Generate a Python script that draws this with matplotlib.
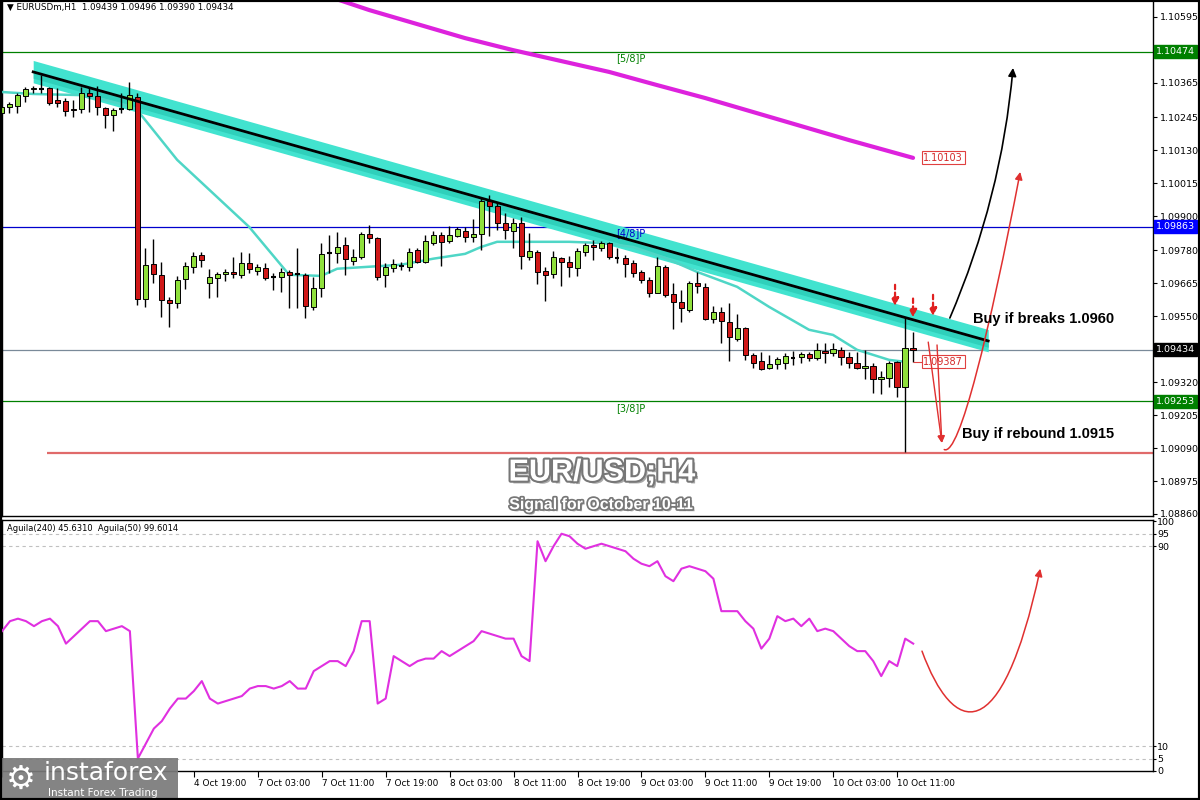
import matplotlib
matplotlib.use("Agg")
import matplotlib.pyplot as plt
import matplotlib.patheffects as pe
import matplotlib.transforms as mtransforms
from matplotlib.path import Path
from matplotlib.patches import FancyArrowPatch, Rectangle

# EURUSD H1 candles
opens = [1.10260, 1.10282, 1.10285, 1.10319, 1.10343, 1.10347, 1.10347, 1.10305, 1.10302, 1.10274,
         1.10274, 1.10329, 1.10319, 1.10277, 1.10253, 1.10270, 1.10274, 1.10315, 1.09611, 1.09733,
         1.09695, 1.09607, 1.09597, 1.09681, 1.09723, 1.09765, 1.09667, 1.09684, 1.09698, 1.09705,
         1.09695, 1.09737, 1.09709, 1.09719, 1.09688, 1.09688, 1.09705, 1.09698, 1.09695, 1.09583,
         1.09649, 1.09772, 1.09772, 1.09799, 1.09744, 1.09758, 1.09838, 1.09824, 1.09695, 1.09719,
         1.09726, 1.09723, 1.09782, 1.09740, 1.09806, 1.09834, 1.09813, 1.09831, 1.09848, 1.09827,
         1.09838, 1.09953, 1.09935, 1.09876, 1.09848, 1.09876, 1.09758, 1.09775, 1.09709, 1.09698,
         1.09754, 1.09740, 1.09719, 1.09775, 1.09799, 1.09789, 1.09806, 1.09754, 1.09754, 1.09737,
         1.09705, 1.09677, 1.09632, 1.09723, 1.09628, 1.09600, 1.09572, 1.09667, 1.09653, 1.09541,
         1.09565, 1.09530, 1.09471, 1.09509, 1.09415, 1.09394, 1.09370, 1.09384, 1.09387, 1.09408,
         1.09408, 1.09419, 1.09405, 1.09429, 1.09422, 1.09433, 1.09408, 1.09387, 1.09370, 1.09377,
         1.09331, 1.09335, 1.09391, 1.09303, 1.09439]
highs = [1.10295, 1.10298, 1.10329, 1.10350, 1.10354, 1.10392, 1.10350, 1.10347, 1.10312, 1.10305,
         1.10350, 1.10350, 1.10354, 1.10281, 1.10277, 1.10329, 1.10368, 1.10329, 1.09789, 1.09820,
         1.09740, 1.09618, 1.09691, 1.09740, 1.09775, 1.09775, 1.09716, 1.09705, 1.09716, 1.09758,
         1.09775, 1.09772, 1.09733, 1.09737, 1.09702, 1.09719, 1.09712, 1.09789, 1.09702, 1.09688,
         1.09806, 1.09834, 1.09845, 1.09827, 1.09785, 1.09845, 1.09869, 1.09827, 1.09737, 1.09751,
         1.09740, 1.09789, 1.09789, 1.09834, 1.09848, 1.09845, 1.09866, 1.09862, 1.09862, 1.09890,
         1.09963, 1.09973, 1.09946, 1.09911, 1.09893, 1.09897, 1.09841, 1.09782, 1.09723, 1.09779,
         1.09758, 1.09761, 1.09789, 1.09806, 1.09817, 1.09813, 1.09810, 1.09789, 1.09765, 1.09747,
         1.09712, 1.09688, 1.09758, 1.09730, 1.09667, 1.09642, 1.09674, 1.09705, 1.09667, 1.09586,
         1.09583, 1.09597, 1.09558, 1.09513, 1.09422, 1.09426, 1.09415, 1.09408, 1.09422, 1.09429,
         1.09426, 1.09426, 1.09457, 1.09457, 1.09457, 1.09443, 1.09426, 1.09426, 1.09433, 1.09387,
         1.09359, 1.09394, 1.09394, 1.09544, 1.09496]
lows = [1.10253, 1.10260, 1.10260, 1.10298, 1.10329, 1.10329, 1.10288, 1.10281, 1.10249, 1.10246,
        1.10260, 1.10263, 1.10253, 1.10207, 1.10197, 1.10260, 1.10270, 1.09590, 1.09583, 1.09667,
        1.09548, 1.09513, 1.09579, 1.09646, 1.09702, 1.09723, 1.09614, 1.09618, 1.09674, 1.09684,
        1.09684, 1.09702, 1.09695, 1.09677, 1.09642, 1.09635, 1.09579, 1.09579, 1.09544, 1.09572,
        1.09618, 1.09702, 1.09737, 1.09695, 1.09730, 1.09751, 1.09806, 1.09677, 1.09653, 1.09705,
        1.09712, 1.09709, 1.09737, 1.09737, 1.09799, 1.09726, 1.09806, 1.09827, 1.09810, 1.09810,
        1.09782, 1.09831, 1.09851, 1.09820, 1.09789, 1.09716, 1.09747, 1.09663, 1.09604, 1.09684,
        1.09656, 1.09688, 1.09691, 1.09761, 1.09747, 1.09779, 1.09751, 1.09737, 1.09688, 1.09688,
        1.09667, 1.09618, 1.09630, 1.09618, 1.09506, 1.09530, 1.09565, 1.09632, 1.09537, 1.09527,
        1.09457, 1.09394, 1.09464, 1.09398, 1.09370, 1.09363, 1.09366, 1.09366, 1.09366, 1.09380,
        1.09387, 1.09394, 1.09398, 1.09387, 1.09412, 1.09380, 1.09370, 1.09366, 1.09331, 1.09282,
        1.09279, 1.09303, 1.09269, 1.09077, 1.09390]
closes = [1.10281, 1.10291, 1.10322, 1.10343, 1.10347, 1.10345, 1.10295, 1.10295, 1.10267, 1.10270,
          1.10329, 1.10319, 1.10281, 1.10253, 1.10270, 1.10272, 1.10322, 1.09610, 1.09730, 1.09698,
          1.09607, 1.09597, 1.09677, 1.09726, 1.09761, 1.09747, 1.09688, 1.09698, 1.09705, 1.09698,
          1.09737, 1.09716, 1.09723, 1.09684, 1.09686, 1.09705, 1.09695, 1.09696, 1.09586, 1.09649,
          1.09768, 1.09770, 1.09792, 1.09751, 1.09758, 1.09838, 1.09824, 1.09688, 1.09723, 1.09733,
          1.09724, 1.09775, 1.09740, 1.09813, 1.09834, 1.09810, 1.09834, 1.09855, 1.09827, 1.09838,
          1.09953, 1.09935, 1.09876, 1.09851, 1.09876, 1.09761, 1.09779, 1.09705, 1.09695, 1.09758,
          1.09740, 1.09723, 1.09779, 1.09799, 1.09792, 1.09806, 1.09758, 1.09752, 1.09733, 1.09702,
          1.09677, 1.09632, 1.09726, 1.09625, 1.09600, 1.09579, 1.09667, 1.09656, 1.09541, 1.09565,
          1.09534, 1.09478, 1.09509, 1.09415, 1.09387, 1.09366, 1.09384, 1.09401, 1.09412, 1.09406,
          1.09419, 1.09405, 1.09433, 1.09422, 1.09436, 1.09408, 1.09387, 1.09370, 1.09377, 1.09331,
          1.09338, 1.09387, 1.09303, 1.09440, 1.09434]

# moving averages (sampled points)
ma_fast_idx = [0, 4, 10, 12, 16, 17, 22, 31, 36, 40, 42, 46, 50, 54, 58, 60, 62, 66, 71, 75,
               79, 83, 87, 92, 96, 101, 104, 107, 111, 113]
ma_fast_val = [1.10333, 1.10326, 1.10322, 1.10312, 1.10284, 1.10270, 1.10096, 1.09862, 1.09695, 1.09691,
               1.09716, 1.09723, 1.09730, 1.09751, 1.09768, 1.09792, 1.09810, 1.09810, 1.09810, 1.09806,
               1.09792, 1.09754, 1.09705, 1.09653, 1.09583, 1.09503, 1.09485, 1.09433, 1.09398, 1.09391]
ma_slow_idx = [40, 46, 52, 58, 64, 70, 76, 82, 88, 94, 100, 106, 114]
ma_slow_val = [1.10675, 1.10619, 1.10570, 1.10521, 1.10479, 1.10441, 1.10403, 1.10357, 1.10312,
               1.10263, 1.10214, 1.10165, 1.10103]

# Aguila(50) oscillator
aguila = [56, 60, 61, 60, 58, 60, 61, 58, 51, 54, 57, 60, 60, 56, 57, 58, 56, 5, 11, 17,
          20, 25, 29, 29, 32, 36, 29, 27, 28, 29, 30, 33, 34, 34, 33, 34, 36, 33, 33, 40,
          42, 44, 44, 42, 48, 60, 60, 27, 29, 46, 44, 42, 44, 45, 45, 48, 46, 48, 50, 52,
          56, 55, 54, 53, 53, 46, 44, 92, 84, 90, 95, 94, 91, 89, 90, 91, 90, 89, 88, 85,
          83, 82, 84, 78, 76, 81, 82, 81, 80, 77, 64, 64, 64, 60, 57, 49, 53, 62, 60, 61,
          58, 61, 56, 57, 56, 53, 50, 48, 48, 44, 38, 44, 42, 53, 51]

price_ticks = [1.10595, 1.10365, 1.10245, 1.10130, 1.10015, 1.09900, 1.09780, 1.09665,
               1.09550, 1.09320, 1.09205, 1.09090, 1.08975, 1.08860]
# the first labels sit under the logo and are not readable, only their ticks show
time_tick_idx = [0, 8, 16, 24, 32, 40, 48, 56, 64, 72, 80, 88, 96, 104, 112]
time_tick_labels = ["", "", "", "4 Oct 19:00", "7 Oct 03:00",
                    "7 Oct 11:00", "7 Oct 19:00", "8 Oct 03:00", "8 Oct 11:00", "8 Oct 19:00",
                    "9 Oct 03:00", "9 Oct 11:00", "9 Oct 19:00", "10 Oct 03:00", "10 Oct 11:00"]

# levels
lvl_58, lvl_48, lvl_38 = 1.10474, 1.09863, 1.09253
last_price = 1.09434
support = 1.09073
trend_start = (4, 1.10403)
trend_end = (123.4, 1.09464)

GREEN = "#8fe03c"
RED = "#d01818"

fig = plt.figure(figsize=(12, 8), dpi=100)
ax = fig.add_axes([2 / 1200, 1 - 516 / 800, 1151 / 1200, 516 / 800])
axi = fig.add_axes([2 / 1200, 1 - 771 / 800, 1151 / 1200, 251 / 800])

# --- price panel ---
ax.set_xlim(0.1, 144.0)
ax.set_ylim(1.08853, 1.10654)

# trend channel band
bx = [trend_start[0], trend_end[0]]
by = [trend_start[1], trend_end[1]]
ax.fill_between(bx, [v + 0.00040 for v in by], [v - 0.00038 for v in by],
                color="#42e3cf", lw=0, zorder=2)
ax.fill_between(bx, [v - 0.00004 for v in by], [v - 0.00022 for v in by],
                color="#2fd0bb", lw=0, zorder=2)

# horizontal levels
ax.axhline(lvl_58, color="#008000", lw=0.9, zorder=1)
ax.axhline(lvl_48, color="#0000cd", lw=0.9, zorder=1)
ax.axhline(lvl_38, color="#008000", lw=0.9, zorder=1)
ax.axhline(last_price, color="#7a8a99", lw=0.9, zorder=1)
ax.hlines(support, 5.75, 144.0, color="#e06a6a", lw=1.6, zorder=1)
for lvl, lab, col in [(lvl_58, "[5/8]P", "#008000"), (lvl_48, "[4/8]P", "#0000cd"),
                      (lvl_38, "[3/8]P", "#008000")]:
    ax.text(78.75, lvl - 0.00006, lab, color=col, fontsize=7, ha="center", va="top", zorder=3)

# moving averages
ax.plot(ma_slow_idx, ma_slow_val, color="#dd22dd", lw=3, zorder=3, solid_capstyle="round")
ax.plot(ma_fast_idx, ma_fast_val, color="#4fd6c6", lw=1.8, zorder=3)

# candles
for i, (o, h, l, c) in enumerate(zip(opens, highs, lows, closes)):
    ax.vlines(i, l, h, color="black", lw=1, zorder=4)
    if abs(c - o) < 0.00003:
        ax.hlines(c, i - 0.3, i + 0.3, color="black", lw=1.5, zorder=5)
    else:
        ax.bar(i, abs(c - o), bottom=min(o, c), width=0.64, color=GREEN if c > o else RED,
               edgecolor="black", lw=0.7, zorder=5)

# trend line on top
ax.plot(bx, by, color="black", lw=2, zorder=6)

# value labels of the moving averages
ax.text(115.3, ma_slow_val[-1], "1.10103", fontsize=7, color="#d42a2a", va="center", ha="left",
        bbox=dict(boxstyle="square,pad=0.15", fc="white", ec="#e04040", lw=0.8), zorder=7)
ax.hlines(ma_fast_val[-1], 114, 115.3, color="#e04040", lw=0.8, zorder=6)
ax.text(115.3, ma_fast_val[-1], "1.09387", fontsize=7, color="#d42a2a", va="center", ha="left",
        bbox=dict(boxstyle="square,pad=0.15", fc="white", ec="#e04040", lw=0.8), zorder=7)

# red dashed "!" arrows
for x0, ys, ye in [(111.75, 1.09660, 1.09586), (114.0, 1.09612, 1.09546), (116.5, 1.09625, 1.09551)]:
    ax.annotate("", xy=(x0, ye), xytext=(x0, ys),
                arrowprops=dict(arrowstyle="-|>", color="#e02020", lw=1.6,
                                linestyle=(0, (2, 1.5)), mutation_scale=11,
                                shrinkA=0, shrinkB=0), zorder=8)

# black breakout arrow
ax.annotate("", xy=(126.5, 1.10417), xytext=(118.6, 1.09544),
            arrowprops=dict(arrowstyle="-|>", color="black", lw=1.2, mutation_scale=12,
                            connectionstyle="arc3,rad=0.08", shrinkA=0, shrinkB=0), zorder=8)
# red drop arrows
for xs, ys in [(115.9, 1.09460), (117.0, 1.09450)]:
    ax.annotate("", xy=(117.6, 1.09108), xytext=(xs, ys),
                arrowprops=dict(arrowstyle="-|>", color="#e03030", lw=1.0, mutation_scale=10,
                                shrinkA=0, shrinkB=0), zorder=8)
# red rebound arrow
rebound = Path([(117.9, 1.09085), (119.8, 1.09060), (123.6, 1.09502), (127.4, 1.10054)],
               [Path.MOVETO, Path.CURVE4, Path.CURVE4, Path.CURVE4])
ax.add_patch(FancyArrowPatch(path=rebound, arrowstyle="-|>", color="#e03030", lw=1.1,
                             mutation_scale=11, zorder=8))

ax.text(121.5, 1.09541, "Buy if breaks 1.0960", fontsize=10.5, fontweight="bold",
        family="Liberation Sans", ha="left", va="center", zorder=9)
ax.text(120.1, 1.09140, "Buy if rebound 1.0915", fontsize=10.5, fontweight="bold",
        family="Liberation Sans", ha="left", va="center", zorder=9)

# title texts
ax.text(0.521, 0.084, "EUR/USD;H4", transform=ax.transAxes, fontsize=22, fontweight="bold",
        family="Liberation Sans", color="white", ha="center", va="center", zorder=9,
        path_effects=[pe.SimplePatchShadow(offset=(2, -2), shadow_rgbFace="#555555", alpha=0.5),
                      pe.withStroke(linewidth=3, foreground="#777777")])
ax.text(0.521, 0.022, "Signal for October 10-11", transform=ax.transAxes, fontsize=11.5,
        fontweight="bold", family="Liberation Sans", color="white", ha="center", va="center",
        zorder=9,
        path_effects=[pe.SimplePatchShadow(offset=(1.5, -1.5), shadow_rgbFace="#555555", alpha=0.5),
                      pe.withStroke(linewidth=2.5, foreground="#777777")])

ax.text(0.004, 0.994, "\u25bc EURUSDm,H1  1.09439 1.09496 1.09390 1.09434", transform=ax.transAxes,
        fontsize=6.3, ha="left", va="top", zorder=9)

# right price axis
ax.set_xticks([])
ax.set_yticks(price_ticks)
ax.set_yticklabels([f"{v:.5f}" for v in price_ticks])
ax.tick_params(axis="y", left=False, right=True, labelleft=False, labelright=True,
               labelsize=6.8, length=3, pad=2)
trans = mtransforms.blended_transform_factory(ax.transAxes, ax.transData)
for lvl, fc in [(lvl_58, "#008000"), (lvl_48, "#0000ff"), (last_price, "black"), (lvl_38, "#008000")]:
    ax.text(1.0025, lvl, f"{lvl:.5f}", transform=trans, fontsize=6.8, color="white", ha="left",
            va="center", bbox=dict(boxstyle="square,pad=0.2", fc=fc, ec=fc), clip_on=False,
            zorder=10)
for s in ax.spines.values():
    s.set_color("black")
    s.set_linewidth(1)

# --- indicator panel ---
axi.set_xlim(0.1, 144.0)
axi.set_ylim(0, 100.5)
for lv in [95, 90, 10, 5]:
    axi.axhline(lv, color="#c0c0c0", lw=0.8, linestyle=(0, (3, 3)), zorder=1)
axi.plot(range(len(aguila)), aguila, color="#e030e0", lw=1.5, zorder=3)
osc_arrow = Path([(115.1, 48), (119.0, 14), (125.0, 8), (129.9, 81)],
                 [Path.MOVETO, Path.CURVE4, Path.CURVE4, Path.CURVE4])
axi.add_patch(FancyArrowPatch(path=osc_arrow, arrowstyle="-|>", color="#e03030", lw=1.1,
                              mutation_scale=11, zorder=4))
axi.text(0.004, 0.985, "Aguila(240) 45.6310  Aguila(50) 99.6014", transform=axi.transAxes,
         fontsize=6.0, ha="left", va="top")
axi.set_yticks([0, 5, 10, 90, 95, 100])
axi.set_yticklabels(["0", "5", "10", "90", "95", "100"])
axi.tick_params(axis="y", left=False, right=True, labelleft=False, labelright=True,
                labelsize=6.8, length=2, pad=1)
axi.set_xticks(time_tick_idx)
axi.set_xticklabels(time_tick_labels)
axi.tick_params(axis="x", labelsize=6.4, length=4, pad=2)
for lbl in axi.get_xticklabels():
    lbl.set_horizontalalignment("left")
for s in axi.spines.values():
    s.set_color("black")
    s.set_linewidth(1)

# logo
fig.add_artist(Rectangle((0, 0), 178 / 1200, 42 / 800, transform=fig.transFigure,
                         fc="#7a7a7a", ec="none", alpha=0.92, zorder=20))
fig.text(6 / 1200, 21 / 800, "\u2699", fontsize=24, color="white", ha="left", va="center", zorder=21)
fig.text(44 / 1200, 27 / 800, "instaforex", fontsize=18, color="white", ha="left", va="center",
         zorder=21)
fig.text(48 / 1200, 7 / 800, "Instant Forex Trading", fontsize=7.5, color="white", ha="left",
         va="center", zorder=21)

fig.add_artist(Rectangle((0, 0), 1, 1, transform=fig.transFigure, fill=False, ec="black", lw=3,
                         zorder=30))

fig.savefig("out.png", dpi=100, facecolor="white")
